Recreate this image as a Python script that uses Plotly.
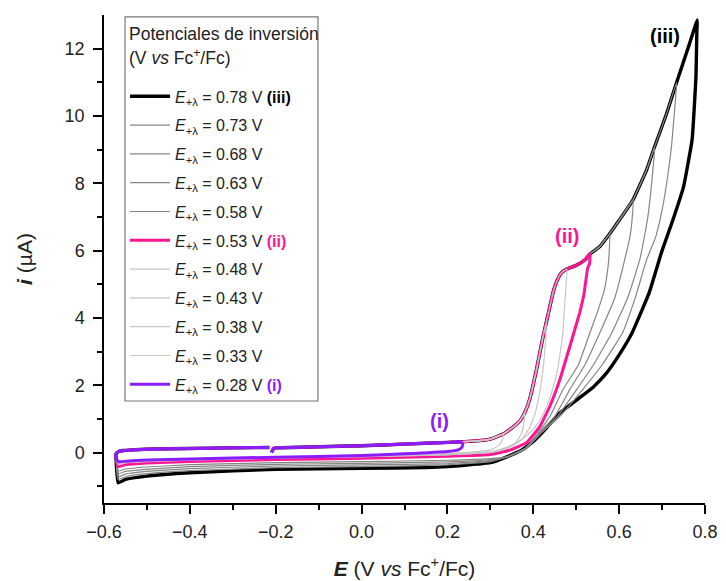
import plotly.graph_objects as go

# ---------------- data ----------------
E_LAMBDA = [0.78, 0.73, 0.68, 0.63, 0.58, 0.53, 0.48, 0.43, 0.38, 0.33, 0.28]
TURN_E = [0.782, 0.734, 0.683, 0.632, 0.578, 0.532, 0.478, 0.43, 0.38, 0.33, 0.23]

# common anodic (forward) branch, starting at -0.2 V
FWD_E = [-0.21, -0.205, -0.2, -0.1, 0.0, 0.1, 0.2, 0.23, 0.26, 0.3, 0.33, 0.345, 0.36, 0.37,
         0.38, 0.392, 0.408, 0.422, 0.43, 0.438, 0.447, 0.455, 0.465, 0.478, 0.5, 0.52, 0.532,
         0.555, 0.578, 0.6, 0.632, 0.664, 0.683, 0.71, 0.734, 0.764, 0.782]
FWD_I = [0.0, 0.12, 0.14, 0.17, 0.2, 0.25, 0.3, 0.32, 0.34, 0.4, 0.55, 0.68, 0.83, 0.96,
         1.18, 1.6, 2.5, 3.4, 3.85, 4.3, 4.8, 5.1, 5.33, 5.45, 5.56, 5.72, 5.9,
         6.12, 6.5, 6.9, 7.5, 8.4, 9.1, 10.05, 11.0, 12.15, 12.85]

# reverse (cathodic) branches, from the switching potential down to -0.567 V
REV_E_078 = [0.781, 0.779, 0.77, 0.75, 0.725, 0.70, 0.67, 0.63, 0.60, 0.57, 0.54, 0.50, 0.46,
             0.43, 0.40, 0.37, 0.34, 0.3, 0.2, 0.15, 0.0, -0.2, -0.4, -0.5, -0.55, -0.567]
REV_I_078 = [12.5, 11.2, 9.3, 7.9, 6.9, 6.0, 4.75, 3.55, 2.9, 2.35, 1.95, 1.55, 1.15,
             0.72, 0.33, 0.05, -0.12, -0.3, -0.42, -0.45, -0.47, -0.5, -0.6, -0.7, -0.8, -0.9]

REV_E_073 = [0.73, 0.722, 0.713, 0.70, 0.685, 0.664, 0.64, 0.608, 0.56, 0.515, 0.46, 0.42,
             0.385, 0.34, 0.3, 0.2, 0.0, -0.2, -0.4, -0.5, -0.55, -0.567]
REV_I_073 = [10.3, 9.1, 8.2, 7.2, 6.4, 5.73, 4.7, 3.56, 2.6, 1.87, 1.05, 0.6,
             0.15, -0.12, -0.27, -0.37, -0.42, -0.45, -0.54, -0.63, -0.72, -0.8]

REV_E_068 = [0.68, 0.675, 0.668, 0.66, 0.648, 0.62, 0.583, 0.54, 0.501, 0.455, 0.418, 0.385,
             0.34, 0.3, 0.2, 0.0, -0.2, -0.4, -0.5, -0.55, -0.567]
REV_I_068 = [8.6, 7.9, 7.1, 6.5, 5.73, 4.6, 3.56, 2.6, 1.87, 1.05, 0.6, 0.13,
             -0.13, -0.24, -0.33, -0.37, -0.4, -0.48, -0.56, -0.64, -0.72]

REV_E_063 = [0.63, 0.625, 0.613, 0.59, 0.555, 0.52, 0.485, 0.45, 0.415, 0.385, 0.34, 0.3,
             0.2, 0.0, -0.2, -0.4, -0.5, -0.55, -0.567]
REV_I_063 = [6.9, 6.4, 5.73, 4.6, 3.56, 2.6, 1.87, 1.07, 0.6, 0.12, -0.13, -0.21,
             -0.28, -0.32, -0.35, -0.42, -0.5, -0.56, -0.63]

REV_E_058 = [0.577, 0.574, 0.565, 0.55, 0.532, 0.505, 0.469, 0.44, 0.412, 0.38, 0.34, 0.3,
             0.2, 0.0, -0.2, -0.4, -0.5, -0.55, -0.567]
REV_I_058 = [6.0, 5.5, 4.8, 4.2, 3.56, 2.6, 1.87, 1.1, 0.6, 0.12, -0.12, -0.18,
             -0.23, -0.27, -0.3, -0.36, -0.43, -0.49, -0.55]

REV_E_053 = [0.531, 0.527, 0.518, 0.508, 0.485, 0.462, 0.438, 0.415, 0.385, 0.345, 0.3,
             0.2, 0.0, -0.2, -0.4, -0.5, -0.55, -0.567]
REV_I_053 = [5.6, 5.5, 4.7, 4.15, 3.15, 2.17, 1.36, 0.77, 0.3, 0.07, -0.06,
             -0.11, -0.17, -0.21, -0.27, -0.31, -0.36, -0.42]

REV_E_048 = [0.476, 0.472, 0.469, 0.462, 0.455, 0.443, 0.431, 0.415, 0.399, 0.375, 0.35,
             0.32, 0.3, 0.2, 0.0, -0.2, -0.4, -0.5, -0.55, -0.567]
REV_I_048 = [4.9, 4.2, 3.56, 2.9, 2.37, 1.8, 1.36, 0.95, 0.68, 0.4, 0.22,
             0.08, 0.02, -0.06, -0.12, -0.17, -0.23, -0.27, -0.31, -0.36]

REV_E_043 = [0.428, 0.423, 0.415, 0.405, 0.39, 0.37, 0.345, 0.32, 0.3, 0.2, 0.0, -0.2,
             -0.4, -0.5, -0.55, -0.567]
REV_I_043 = [3.2, 2.5, 1.8, 1.2, 0.7, 0.35, 0.15, 0.05, 0.0, -0.07, -0.12, -0.16,
             -0.22, -0.26, -0.3, -0.34]

REV_E_038 = [0.378, 0.372, 0.36, 0.34, 0.32, 0.3, 0.2, 0.0, -0.2, -0.4, -0.5, -0.55, -0.567]
REV_I_038 = [0.85, 0.55, 0.3, 0.15, 0.06, 0.02, -0.05, -0.11, -0.15, -0.21, -0.25, -0.29, -0.32]

REV_E_033 = [0.328, 0.32, 0.305, 0.28, 0.2, 0.0, -0.2, -0.4, -0.5, -0.55, -0.567]
REV_I_033 = [0.38, 0.22, 0.1, 0.04, -0.03, -0.1, -0.14, -0.2, -0.24, -0.28, -0.3]

REV_E_028 = [0.236, 0.234, 0.225, 0.2, 0.1, 0.0, -0.2, -0.4, -0.5, -0.55, -0.567]
REV_I_028 = [0.26, 0.16, 0.08, 0.03, -0.04, -0.09, -0.14, -0.19, -0.22, -0.26, -0.27]

# return branch after the cathodic switch at -0.57 V, back to the start
RET_E = [-0.572, -0.572, -0.566, -0.555, -0.53, -0.5, -0.4, -0.3, -0.215]
RET_I = [-0.15, -0.04, 0.03, 0.06, 0.08, 0.1, 0.12, 0.14, 0.15]

REV_E = [REV_E_078, REV_E_073, REV_E_068, REV_E_063, REV_E_058, REV_E_053,
         REV_E_048, REV_E_043, REV_E_038, REV_E_033, REV_E_028]
REV_I = [REV_I_078, REV_I_073, REV_I_068, REV_I_063, REV_I_058, REV_I_053,
         REV_I_048, REV_I_043, REV_I_038, REV_I_033, REV_I_028]

TAGS = ["(iii)", "", "", "", "", "(ii)", "", "", "", "", "(i)"]
LEGEND_TITLE = ["Potenciales de inversión", "(V <i>vs</i> Fc<sup>+</sup>/Fc)"]

# ---------------- styles ----------------
BLACK = "#000000"
PINK = "#FF1493"
PURPLE = "#8A1CFF"
MIDGRAY = "#858585"
LIGHTGRAY = "#c6c6c6"
COLORS = [BLACK, MIDGRAY, MIDGRAY, MIDGRAY, MIDGRAY, PINK,
          LIGHTGRAY, LIGHTGRAY, LIGHTGRAY, LIGHTGRAY, PURPLE]
WIDTHS = [3.4, 1.2, 1.2, 1.2, 1.2, 3.0, 1.2, 1.2, 1.2, 1.2, 3.0]
TAG_COLORS = [BLACK, None, None, None, None, PINK, None, None, None, None, PURPLE]
DRAW_ORDER = [0, 1, 2, 3, 4, 5, 9, 8, 7, 6, 10]

FONT = "Liberation Sans, Arial, sans-serif"
TXT = "#222"

fig = go.Figure()
for k in DRAW_ORDER:
    idx = FWD_E.index(TURN_E[k])
    xs = FWD_E[:idx + 1] + REV_E[k] + RET_E
    ys = FWD_I[:idx + 1] + REV_I[k] + RET_I
    label = "<i>E</i><sub>+λ</sub> = %.2f V" % E_LAMBDA[k]
    if TAGS[k]:
        label += " <span style='color:%s'><b>%s</b></span>" % (TAG_COLORS[k], TAGS[k])
    fig.add_trace(go.Scatter(
        x=xs, y=ys, mode="lines",
        line=dict(color=COLORS[k], width=WIDTHS[k], shape="spline", smoothing=0.35),
        name=label, legendgroup="g%d" % k, legendrank=k + 1,
        hoverinfo="skip"))

# curve labels
fig.add_annotation(x=0.706, y=12.37, text="<b>(iii)</b>", showarrow=False,
                   font=dict(size=20, color=BLACK, family=FONT))
fig.add_annotation(x=0.478, y=6.44, text="<b>(ii)</b>", showarrow=False,
                   font=dict(size=20, color=PINK, family=FONT))
fig.add_annotation(x=0.182, y=0.95, text="<b>(i)</b>", showarrow=False,
                   font=dict(size=20, color=PURPLE, family=FONT))

# legend frame and two-line legend heading
fig.add_shape(type="rect", xref="paper", yref="paper", x0=0.035, x1=0.356, y0=0.209, y1=0.996,
              line=dict(color="#777", width=1.2), fillcolor="white", layer="below")
fig.add_annotation(xref="paper", yref="paper", x=0.038, y=0.962, xanchor="left",
                   yanchor="middle", text=LEGEND_TITLE[0], showarrow=False,
                   font=dict(size=17.5, color=TXT, family=FONT))
fig.add_annotation(xref="paper", yref="paper", x=0.038, y=0.913, xanchor="left",
                   yanchor="middle", text=LEGEND_TITLE[1], showarrow=False,
                   font=dict(size=17.5, color=TXT, family=FONT))

axis_common = dict(showline=True, linecolor="black", linewidth=1.5, mirror=False,
                   ticks="outside", ticklen=9, tickwidth=1.5, tickcolor="black",
                   showgrid=False, zeroline=False, automargin=False,
                   tickfont=dict(size=18, color=TXT, family=FONT))

fig.update_xaxes(range=[-0.6, 0.8], dtick=0.2, tick0=-0.6, tickformat=".1f",
                 ticklabelstandoff=3,
                 minor=dict(dtick=0.1, ticks="outside", ticklen=5, tickwidth=1.5,
                            tickcolor="black", showgrid=False),
                 title=dict(text="<b><i>E</i></b> (V <i>vs</i> Fc<sup>+</sup>/Fc)",
                            font=dict(size=21, color=TXT, family=FONT), standoff=20),
                 **axis_common)
fig.update_yaxes(range=[-1.5, 13], tickvals=[0, 2, 4, 6, 8, 10, 12],
                 ticklabelstandoff=5,
                 minor=dict(tickvals=[-1, 1, 3, 5, 7, 9, 11], ticks="outside", ticklen=5,
                            tickwidth=1.5, tickcolor="black", showgrid=False),
                 title=dict(text="<b><i>i</i></b> (µA)",
                            font=dict(size=21, color=TXT, family=FONT), standoff=26),
                 **axis_common)

# the page body adds an 8 px offset, so the figure is sized to compensate
fig.update_layout(
    width=718, height=573,
    margin=dict(l=96, r=21, t=7, b=78),
    plot_bgcolor="white", paper_bgcolor="white",
    font=dict(family=FONT, color=TXT),
    legend=dict(
        x=0.035, y=0.868, xanchor="left", yanchor="top",
        bgcolor="rgba(0,0,0,0)", borderwidth=0,
        font=dict(size=16, color=TXT, family=FONT),
        traceorder="grouped", tracegroupgap=5, itemwidth=40,
    ),
)

fig.write_html("out.html")
